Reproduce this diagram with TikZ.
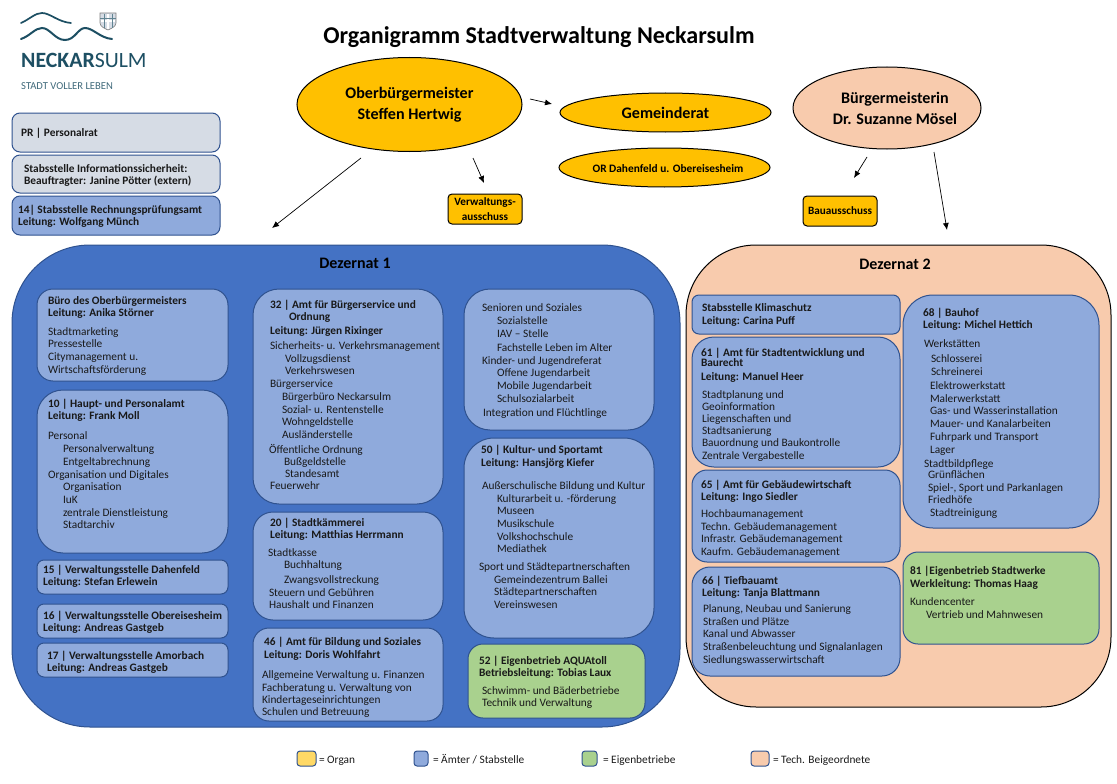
\documentclass[tikz,border=0pt]{standalone}
\usepackage{fontspec}
\setmainfont{Carlito}
\usetikzlibrary{shapes.geometric,arrows.meta}
\definecolor{dblue}{HTML}{4472C4}
\definecolor{dline}{HTML}{2F528F}
\definecolor{lblue}{HTML}{8FAADC}
\definecolor{lgreen}{HTML}{A9D18E}
\definecolor{peach}{HTML}{F8CBAD}
\definecolor{orgorange}{HTML}{FFC000}
\definecolor{lgrey}{HTML}{D6DCE5}
\definecolor{legyel}{HTML}{FFD966}
\definecolor{teal}{HTML}{1D4F63}
\newcounter{tlc}
\newcommand{\Tl}[3]{\stepcounter{tlc}\node[bodytext] (l\arabic{tlc}) at (#1,#2) {#3};}
\newcommand{\Tb}[3]{\stepcounter{tlc}\node[bodytext,font=\fontsize{11.35}{12}\selectfont\bfseries] (l\arabic{tlc}) at (#1,#2) {#3};}
\newcommand{\Bx}[7]{\node[roundbox,#7,rounded corners=#6,minimum width={(#4-#2)*1pt},minimum height={(#5-#3)*1pt}] (#1) at (#2,#3) {};}
\tikzset{
  bodytext/.style={anchor=base west,inner sep=0pt,outer sep=0pt,text=black!90,font=\fontsize{11.35}{12}\selectfont},
  roundbox/.style={anchor=north west,inner sep=0pt,outer sep=0pt,line width=1pt,draw=dline},
  amt/.style={fill=lblue},
  betrieb/.style={fill=lgreen},
  grau/.style={fill=lgrey},
  organbox/.style={fill=orgorange,draw=black},
  organ/.style={shape=ellipse,draw=black,line width=1pt,fill=orgorange,inner sep=0pt,align=center},
  bigname/.style={font=\fontsize{16.1}{21}\selectfont\bfseries},
  smallname/.style={font=\fontsize{11.2}{12}\selectfont\bfseries},
  conn/.style={-{Latex[length=7pt,width=6pt]},line width=.7pt,black},
}
\begin{document}
\begin{tikzpicture}[x=1pt,y=-1pt]
\useasboundingbox (0,0) rectangle (1117,784);
% logo
\draw[teal,line width=1.7pt,line cap=round] (21,23) .. controls (30,19) and (35,13) .. (42,13) .. controls (50,13) and (58,22) .. (71,23);
\draw[teal,line width=2pt,line cap=round] (21,39) .. controls (30,36) and (35,28) .. (42,28) .. controls (50,28) and (55,40) .. (65,40) .. controls (75,40) and (78,28) .. (85,28) .. controls (93,28) and (100,38) .. (112,39);
\draw[fill=lgrey,draw=black!50,line width=.6pt] (100,13) -- (116,13) -- (116,23) .. controls (116,27) and (110,29) .. (108,30) .. controls (106,29) and (100,27) .. (100,23) -- cycle;
\draw[white,line width=1.2pt] (108,14) -- (108,29) (101,21) -- (115,21);
\draw[teal!70,line width=.5pt] (100,18) -- (116,18) (104,14) -- (104,28) (112,14) -- (112,28);
\node[anchor=base west,inner sep=0pt,text=teal,font=\fontsize{21.8}{24}\selectfont] (logo) at (21,68) {\textbf{NECKAR}SULM};
\node[anchor=base west,inner sep=0pt,text=teal!85,font=\fontsize{10.6}{11}\selectfont] (slogan) at (21,89) {STADT VOLLER LEBEN};
% title
\node[anchor=base,inner sep=0pt,font=\fontsize{24.1}{26}\selectfont\bfseries] (title) at (539,44) {Organigramm Stadtverwaltung Neckarsulm};
% ellipses
\node[organ,minimum width=225pt,minimum height=94pt,bigname] (obm) at (409.5,104.5) {Oberbürgermeister\\Steffen Hertwig};
\node[organ,minimum width=211pt,minimum height=39pt,bigname] (gr) at (665.5,112.5) {Gemeinderat};
\node[organ,minimum width=211pt,minimum height=39pt] (or) at (664.5,167.5) {};
\node[inner sep=0pt,smallname,font=\fontsize{11.35}{12}\selectfont\bfseries] (ort) at (668,168.5) {OR Dahenfeld u. Obereisesheim};
\node[organ,fill=peach,minimum width=188pt,minimum height=82pt] (bm) at (887,108) {};
\node[inner sep=0pt,align=center,bigname] (bmt) at (895,108) {Bürgermeisterin\\Dr. Suzanne Mösel};
\node[roundbox,organbox,rounded corners=4pt,minimum width=74pt,minimum height=30pt] (va) at (448,194) {};
\node[anchor=base,inner sep=0pt,smallname] (vat) at (485,205) {Verwaltungs-};
\node[anchor=base,inner sep=0pt,smallname] (vat2) at (485,220) {ausschuss};
\node[roundbox,organbox,rounded corners=4pt,minimum width=74pt,minimum height=30pt] (ba) at (803,196) {};
\node[inner sep=0pt,smallname] (bat) at (ba.center) {Bauausschuss};
% connectors (free ends, as printed with a gap)
\coordinate (a1s) at (530,99); \coordinate (a1e) at (552,104);
\coordinate (a2s) at (473,158); \coordinate (a2e) at (484,183);
\coordinate (a3s) at (361,158); \coordinate (a3e) at (272,228);
\coordinate (a4s) at (867,157); \coordinate (a4e) at (854,178);
\coordinate (a5s) at (934,152); \coordinate (a5e) at (947,230);
\draw[conn] (a1s) -- (a1e);
\draw[conn] (a2s) -- (a2e);
\draw[conn] (a3s) -- (a3e);
\draw[conn] (a4s) -- (a4e);
\draw[conn] (a5s) -- (a5e);
% left boxes
\Bx{pr}{12}{113}{220}{152}{8pt}{grau}
\Tb{21}{136}{PR | Personalrat}
\Bx{info}{12}{155}{220}{193}{8pt}{grau}
\Tb{24}{172}{Stabsstelle Informationssicherheit:}
\Tb{24}{184}{Beauftragter: Janine Pötter (extern)}
\Bx{rpa}{12}{196}{220}{235}{8pt}{amt}
\Tb{18}{213}{14| Stabsstelle Rechnungsprüfungsamt}
\Tb{18}{225}{Leitung: Wolfgang Münch}
% Dezernat 1
\Bx{dez1}{12}{245}{680}{727}{78pt}{fill=dblue}
\node[anchor=base,inner sep=0pt,font=\fontsize{16}{18}\selectfont\bfseries] (dez1t) at (355,268) {Dezernat 1};
\Bx{buero}{37}{289}{228}{381}{16pt}{amt}
\Tb{48}{304}{Büro des Oberbürgermeisters}
\Tb{48}{316}{Leitung: Anika Störner}
\Tl{48}{335}{Stadtmarketing}
\Tl{48}{347}{Pressestelle}
\Tl{48}{360}{Citymanagement u.}
\Tl{48}{373}{Wirtschaftsförderung}
\Bx{a10}{37}{390}{228}{553}{26pt}{amt}
\Tb{48}{407}{10 | Haupt- und Personalamt}
\Tb{48}{419}{Leitung: Frank Moll}
\Tl{48}{439}{Personal}
\Tl{63}{452}{Personalverwaltung}
\Tl{63}{465}{Entgeltabrechnung}
\Tl{48}{478}{Organisation und Digitales}
\Tl{63}{490}{Organisation}
\Tl{63}{503}{IuK}
\Tl{63}{516}{zentrale Dienstleistung}
\Tl{63}{528}{Stadtarchiv}
\Bx{a15}{37}{560}{228}{594}{7pt}{amt}
\Tb{43}{573}{15 | Verwaltungsstelle Dahenfeld}
\Tb{43}{585}{Leitung: Stefan Erlewein}
\Bx{a16}{37}{604}{228}{638}{7pt}{amt}
\Tb{43}{619}{16 | Verwaltungsstelle Obereisesheim}
\Tb{43}{631}{Leitung: Andreas Gastgeb}
\Bx{a17}{37}{643}{228}{677}{7pt}{amt}
\Tb{47}{659}{17 | Verwaltungsstelle Amorbach}
\Tb{47}{671}{Leitung: Andreas Gastgeb}
\Bx{a32}{253}{289}{443}{504}{26pt}{amt}
\Tb{270}{308}{32 | Amt für Bürgerservice und}
\Tb{289}{320}{Ordnung}
\Tb{270}{334}{Leitung: Jürgen Rixinger}
\Tl{270}{349}{Sicherheits- u. Verkehrsmanagement}
\Tl{285}{362}{Vollzugsdienst}
\Tl{285}{374}{Verkehrswesen}
\Tl{270}{387}{Bürgerservice}
\Tl{282}{400}{Bürgerbüro Neckarsulm}
\Tl{282}{413}{Sozial- u. Rentenstelle}
\Tl{282}{425}{Wohngeldstelle}
\Tl{282}{438}{Ausländerstelle}
\Tl{269}{453}{Öffentliche Ordnung}
\Tl{284}{465}{Bußgeldstelle}
\Tl{285}{477}{Standesamt}
\Tl{270}{489}{Feuerwehr}
\Bx{a20}{253}{512}{443}{620}{20pt}{amt}
\Tb{270}{526}{20 | Stadtkämmerei}
\Tb{270}{538}{Leitung: Matthias Herrmann}
\Tl{268}{556}{Stadtkasse}
\Tl{284}{568}{Buchhaltung}
\Tl{284}{583}{Zwangsvollstreckung}
\Tl{269}{596}{Steuern und Gebühren}
\Tl{269}{608}{Haushalt und Finanzen}
\Bx{a46}{253}{628}{443}{721}{16pt}{amt}
\Tb{264}{645}{46 | Amt für Bildung und Soziales}
\Tb{264}{658}{Leitung: Doris Wohlfahrt}
\Tl{262}{678}{Allgemeine Verwaltung u. Finanzen}
\Tl{262}{691}{Fachberatung u. Verwaltung von}
\Tl{262}{703}{Kindertageseinrichtungen}
\Tl{262}{715}{Schulen und Betreuung}
\Bx{sen}{464}{289}{654}{430}{26pt}{amt}
\Tl{482}{311}{Senioren und Soziales}
\Tl{497}{324}{Sozialstelle}
\Tl{497}{337}{IAV – Stelle}
\Tl{497}{351}{Fachstelle Leben im Alter}
\Tl{482}{364}{Kinder- und Jugendreferat}
\Tl{497}{376}{Offene Jugendarbeit}
\Tl{497}{389}{Mobile Jugendarbeit}
\Tl{497}{402}{Schulsozialarbeit}
\Tl{483}{416}{Integration und Flüchtlinge}
\Bx{a50}{464}{438}{654}{638}{30pt}{amt}
\Tb{481}{453}{50 | Kultur- und Sportamt}
\Tb{481}{466}{Leitung: Hansjörg Kiefer}
\Tl{482}{489}{Außerschulische Bildung und Kultur}
\Tl{497}{502}{Kulturarbeit u. -förderung}
\Tl{497}{514}{Museen}
\Tl{497}{527}{Musikschule}
\Tl{497}{540}{Volkshochschule}
\Tl{497}{552}{Mediathek}
\Tl{479}{570}{Sport und Städtepartnerschaften}
\Tl{494}{583}{Gemeindezentrum Ballei}
\Tl{494}{595}{Städtepartnerschaften}
\Tl{494}{608}{Vereinswesen}
\Bx{a52}{468}{644}{645}{718}{15pt}{betrieb}
\Tb{479}{664}{52 | Eigenbetrieb AQUAtoll}
\Tb{479}{676}{Betriebsleitung: Tobias Laux}
\Tl{482}{694}{Schwimm- und Bäderbetriebe}
\Tl{482}{706}{Technik und Verwaltung}
% Dezernat 2
\Bx{dez2}{686}{245}{1111}{707}{70pt}{fill=peach,draw=black}
\node[anchor=base,inner sep=0pt,font=\fontsize{16}{18}\selectfont\bfseries] (dez2t) at (895,269) {Dezernat 2};
\Bx{klima}{692}{295}{900}{334}{7pt}{amt}
\Tb{702}{311}{Stabsstelle Klimaschutz}
\Tb{702}{324}{Leitung: Carina Puff}
\Bx{a61}{692}{337}{900}{467}{22pt}{amt}
\Tb{701}{356}{61 | Amt für Stadtentwicklung und}
\Tb{701}{366}{Baurecht}
\Tb{701}{380}{Leitung: Manuel Heer}
\Tl{702}{398}{Stadtplanung und}
\Tl{702}{410}{Geoinformation}
\Tl{702}{422}{Liegenschaften und}
\Tl{702}{434}{Stadtsanierung}
\Tl{702}{446}{Bauordnung und Baukontrolle}
\Tl{702}{459}{Zentrale Vergabestelle}
\Bx{a65}{692}{470}{900}{562}{15pt}{amt}
\Tb{701}{488}{65 | Amt für Gebäudewirtschaft}
\Tb{701}{500}{Leitung: Ingo Siedler}
\Tl{701}{517}{Hochbaumanagement}
\Tl{701}{530}{Techn. Gebäudemanagement}
\Tl{701}{542}{Infrastr. Gebäudemanagement}
\Tl{701}{555}{Kaufm. Gebäudemanagement}
\Bx{a66}{692}{567}{900}{676}{18pt}{amt}
\Tb{702}{584}{66 | Tiefbauamt}
\Tb{702}{596}{Leitung: Tanja Blattmann}
\Tl{703}{612}{Planung, Neubau und Sanierung}
\Tl{703}{625}{Straßen und Plätze}
\Tl{703}{637}{Kanal und Abwasser}
\Tl{703}{650}{Straßenbeleuchtung und Signalanlagen}
\Tl{703}{663}{Siedlungswasserwirtschaft}
\Bx{a68}{903}{295}{1099}{528}{30pt}{amt}
\Tb{923}{316}{68 | Bauhof}
\Tb{923}{328}{Leitung: Michel Hettich}
\Tl{924}{347}{Werkstätten}
\Tl{931}{362}{Schlosserei}
\Tl{931}{375}{Schreinerei}
\Tl{930}{389}{Elektrowerkstatt}
\Tl{930}{402}{Malerwerkstatt}
\Tl{930}{414}{Gas- und Wasserinstallation}
\Tl{930}{427}{Mauer- und Kanalarbeiten}
\Tl{930}{440}{Fuhrpark und Transport}
\Tl{930}{453}{Lager}
\Tl{924}{467}{Stadtbildpflege}
\Tl{928}{478}{Grünflächen}
\Tl{928}{491}{Spiel-, Sport und Parkanlagen}
\Tl{928}{503}{Friedhöfe}
\Tl{930}{516}{Stadtreinigung}
\Bx{a81}{903}{552}{1099}{644}{15pt}{betrieb}
\Tb{910}{574}{81 |Eigenbetrieb Stadtwerke}
\Tb{910}{587}{Werkleitung: Thomas Haag}
\Tl{910}{605}{Kundencenter}
\Tl{926}{618}{Vertrieb und Mahnwesen}
% legend
\Bx{lg1}{297}{751}{316}{766}{3pt}{fill=legyel}
\Tl{319}{763}{= Organ}
\Bx{lg2}{414}{751}{428}{766}{3pt}{amt}
\Tl{433}{763}{= Ämter / Stabstelle}
\Bx{lg3}{582}{751}{597}{766}{3pt}{betrieb}
\Tl{603}{763}{= Eigenbetriebe}
\Bx{lg4}{751}{751}{769}{766}{3pt}{fill=peach}
\Tl{773}{763}{= Tech. Beigeordnete}
\end{tikzpicture}
\end{document}
